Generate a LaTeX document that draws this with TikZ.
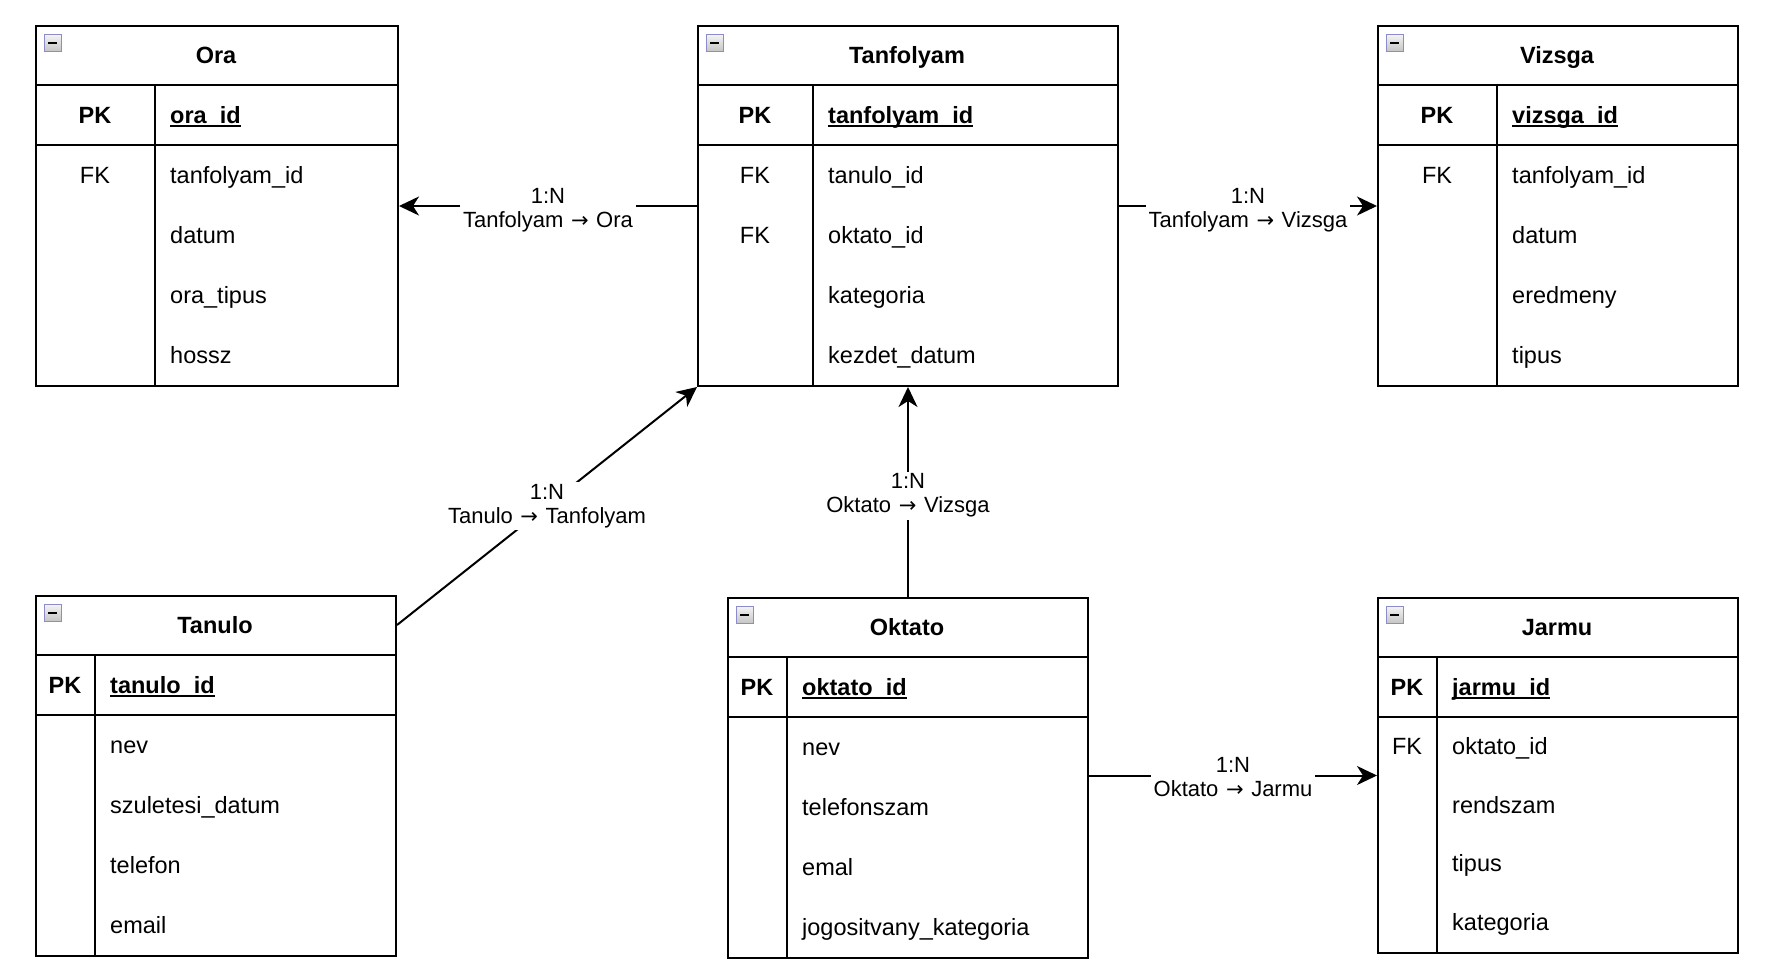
\documentclass[tikz,border=0pt]{standalone}
\usepackage{fontspec}
\setmainfont{Liberation Sans}
\newfontfamily\arrfont{DejaVu Sans}
\usetikzlibrary{arrows.meta,calc}

\newcommand\undl[1]{\setbox0=\hbox{#1}\rlap{\copy0}\rule[-3pt]{\wd0}{2pt}}
\newcommand\rarr{\kern1.5pt{\arrfont\fontsize{21}{24}\selectfont →}\kern1.5pt}
\newcommand\twolines[2]{\begin{tabular}[t]{@{}c@{}}#1\\#2\end{tabular}}

\tikzset{
  tbl/.style={draw, line width=2pt, inner sep=0pt, anchor=north west},
  fld/.style={font=\fontsize{23.5}{28}\selectfont, inner sep=0pt, anchor=base},
  ttl/.style={font=\fontsize{23.5}{28}\selectfont\bfseries, inner sep=0pt, anchor=base},
  conn/.style={line width=2pt, -{Stealth[length=20pt,width=19pt,inset=6pt]}},
  lbl/.style={fill=white, font=\fontsize{22}{24}\selectfont, inner xsep=3pt, inner ysep=0pt, anchor=base},
}

% #1 name, #2 left, #3 top, #4 right, #5 divider, #6 row height, #7 title, #8 pk field, #9 rows
\newcommand\ertable[9]{%
  \pgfmathsetmacro\erB{#3+120+4*#6}%
  \pgfmathsetmacro\erW{#4-#2}%
  \pgfmathsetmacro\erH{\erB-#3}%
  \node[tbl, minimum width=\erW pt, minimum height=\erH pt] (#1) at (#2,#3) {};
  \draw[line width=2pt] (#2,#3+60) -- (#4,#3+60);
  \draw[line width=2pt] (#2,#3+120) -- (#4,#3+120);
  \draw[line width=2pt] (#5,#3+60) -- (#5,\erB);
  \draw[draw=black!45!blue!45, top color=gray!8, bottom color=gray!45, line width=1pt]
    (#2+9,#3+9) rectangle (#2+26,#3+26);
  \draw[line width=2pt] (#2+13,#3+17.5) -- (#2+22,#3+17.5);
  \node[ttl] (#1-title) at ({(#2+#4)/2},#3+38) {#7};
  \node[ttl] (#1-pk) at ({(#2+#5)/2},#3+98.5) {PK};
  \node[ttl, anchor=base west] (#1-pkf) at (#5+15,#3+98.5) {\undl{#8}};
  \foreach \k/\f [count=\i] in {#9} {
    \node[fld] (#1-k\i) at ({(#2+#5)/2}, {#3+120+(\i-0.5)*#6+8}) {\k};
    \node[fld, anchor=base west] (#1-f\i) at (#5+15, {#3+120+(\i-0.5)*#6+8}) {\f};
  }
}

\begin{document}
\begin{tikzpicture}[x=1pt,y=-1pt]
\fill[white] (0,0) rectangle (1778,980);
\useasboundingbox (0,0) rectangle (1778,980);

\ertable{Ora}{35}{25}{397}{155}{60}{Ora}{ora\_id}{FK/tanfolyam\_id, /datum, /ora\_tipus, /hossz}
\ertable{Tanfolyam}{697}{25}{1117}{813}{60}{Tanfolyam}{tanfolyam\_id}{FK/tanulo\_id, FK/oktato\_id, /kategoria, /kezdet\_datum}
\ertable{Vizsga}{1377}{25}{1737}{1497}{60}{Vizsga}{vizsga\_id}{FK/tanfolyam\_id, /datum, /eredmeny, /tipus}
\ertable{Tanulo}{35}{595}{395}{95}{60}{Tanulo}{tanulo\_id}{/nev, /szuletesi\_datum, /telefon, /email}
\ertable{Oktato}{727}{597}{1087}{787}{60}{Oktato}{oktato\_id}{/nev, /telefonszam, /emal, /jogositvany\_kategoria}
\ertable{Jarmu}{1377}{597}{1737}{1437}{58.75}{Jarmu}{jarmu\_id}{FK/oktato\_id, /rendszam, /tipus, /kategoria}

\draw[conn] (Tanfolyam.west) -- node[lbl, yshift=2.5pt] (l1) {\twolines{1:N}{Tanfolyam \rarr{} Ora}} (Ora.east);
\draw[conn] (Tanfolyam.east) -- node[lbl, yshift=2.5pt] (l2) {\twolines{1:N}{Tanfolyam \rarr{} Vizsga}} (Vizsga.west);
\draw[conn] ($(Tanulo.north east)+(0,30)$) -- node[lbl, yshift=7pt] (l3) {\twolines{1:N}{Tanulo \rarr{} Tanfolyam}} (Tanfolyam.south west);
\draw[conn] (Oktato.north) -- node[lbl, yshift=3.5pt] (l4) {\twolines{1:N}{Oktato \rarr{} Vizsga}} (Tanfolyam.south);
\draw[conn] (Oktato.east |- Jarmu.west) -- node[lbl, yshift=3.5pt] (l5) {\twolines{1:N}{Oktato \rarr{} Jarmu}} (Jarmu.west);
\end{tikzpicture}
\end{document}
